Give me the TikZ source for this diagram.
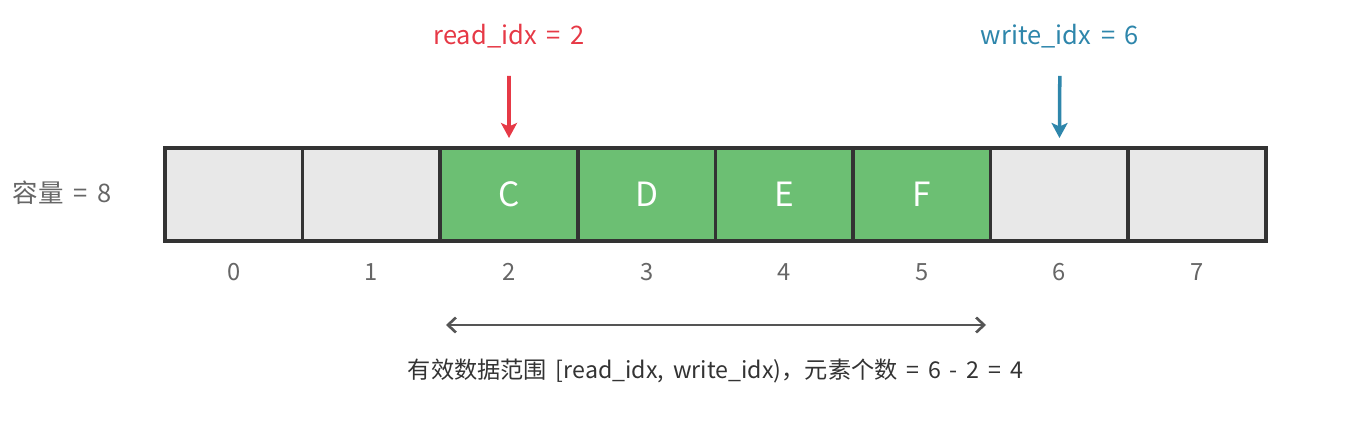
\documentclass[tikz,border=0pt]{standalone}
\usepackage{fontspec}
\setmainfont{Noto Sans CJK SC}[WordSpace=1.7]
\usepackage{xcolor}
\usetikzlibrary{arrows.meta,positioning}
\definecolor{cellgray}{HTML}{E8E8E8}
\definecolor{cellgreen}{HTML}{6CBF73}
\definecolor{edgedark}{HTML}{333333}
\definecolor{readred}{HTML}{E63946}
\definecolor{writeblue}{HTML}{2E86AB}
\definecolor{labelgray}{HTML}{666666}
\definecolor{rangegray}{HTML}{555555}

\begin{document}
\begin{tikzpicture}[
    every node/.style={font=\fontsize{13.5}{16}\selectfont},
    cell/.style={draw=edgedark, line width=2pt, fill=cellgray, minimum width=2.752cm, minimum height=1.86cm, inner sep=0pt, outer sep=0pt},
    full/.style={cell, fill=cellgreen, text=white, font=\fontsize{19}{22}\selectfont},
    idxlab/.style={text=labelgray},
    ptrarr/.style={-{Stealth[length=3mm, width=3.2mm, inset=0.7mm]}, line width=2pt},
    rngarr/.style={{Straight Barb[length=1.6mm, width=3mm]}-{Straight Barb[length=1.6mm, width=3mm]}, line width=1.5pt, draw=rangegray}
  ]
  \useasboundingbox (0,0) rectangle (27.02,8.52);

  % the ring buffer, eight slots
  \node[cell] (c0) at (4.676,4.63) {};
  \node[cell, right=0pt of c0] (c1) {};
  \node[full, right=0pt of c1] (c2) {C};
  \node[full, right=0pt of c2] (c3) {D};
  \node[full, right=0pt of c3] (c4) {E};
  \node[full, right=0pt of c4] (c5) {F};
  \node[cell, right=0pt of c5] (c6) {};
  \node[cell, right=0pt of c6] (c7) {};
  % redraw the full slots' frame on top
  \draw[draw=edgedark, line width=2pt] (c2.south west) rectangle (c5.north east);

  % slot numbers
  \node[idxlab] (i0) at ([yshift=-0.62cm]c0.south) {0};
  \node[idxlab] (i1) at ([yshift=-0.62cm]c1.south) {1};
  \node[idxlab] (i2) at ([yshift=-0.62cm]c2.south) {2};
  \node[idxlab] (i3) at ([yshift=-0.62cm]c3.south) {3};
  \node[idxlab] (i4) at ([yshift=-0.62cm]c4.south) {4};
  \node[idxlab] (i5) at ([yshift=-0.62cm]c5.south) {5};
  \node[idxlab] (i6) at ([yshift=-0.62cm]c6.south) {6};
  \node[idxlab] (i7) at ([yshift=-0.62cm]c7.south) {7};

  \node[idxlab, font=\fontsize{14.5}{17}\selectfont] (cap) at (1.24,4.66) {容量 = 8};

  % read / write pointers
  \node[text=readred, font=\fontsize{14.5}{17}\selectfont] (rlab) at (10.18,7.80) {read\_idx = 2};
  \node[text=writeblue, font=\fontsize{14.5}{17}\selectfont] (wlab) at (21.20,7.80) {write\_idx = 6};
  \draw[ptrarr, readred, shorten <=0.8cm, shorten >=0.2cm] (rlab.center) -- (c2.north);
  \draw[ptrarr, writeblue, shorten <=0.8cm, shorten >=0.2cm] (wlab.center) -- (c6.north);

  % valid range
  \coordinate (rngL) at (8.92,2.02);
  \coordinate (rngR) at (19.72,2.02);
  \draw[rngarr] (rngL) -- (rngR);
  \node[text=edgedark, font=\fontsize{13.2}{16}\selectfont] (rng) at (14.31,1.10) {有效数据范围 [read\_idx, write\_idx)，元素个数 = 6 - 2 = 4};
\end{tikzpicture}
\end{document}
